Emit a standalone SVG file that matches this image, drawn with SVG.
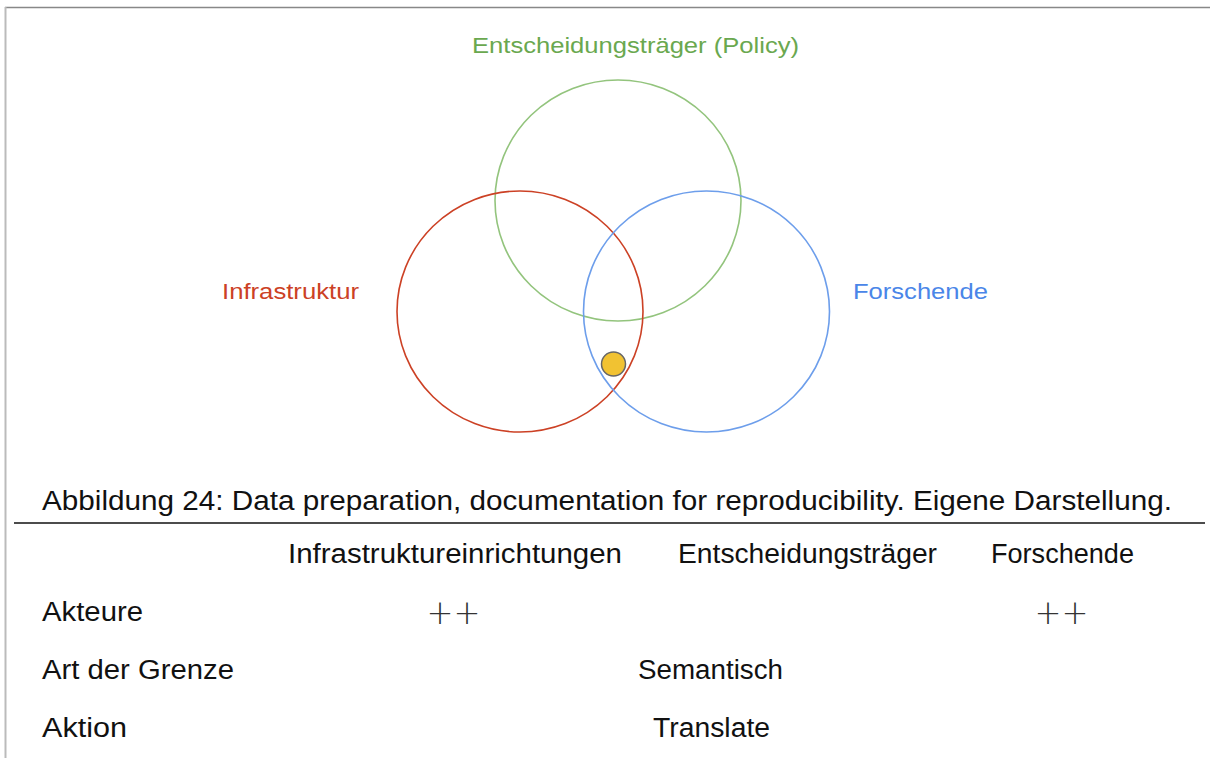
<svg xmlns="http://www.w3.org/2000/svg" width="1210" height="758" viewBox="0 0 1210 758">
<style>
.lbl{font-family:"Liberation Sans",Arial,sans-serif;font-size:22px}
.tx{font-family:"Liberation Sans",Arial,sans-serif;font-size:27px;fill:#111}
.pp{font-family:"DejaVu Sans",sans-serif;font-weight:200;font-size:33px;fill:#333}
.ring{fill:none;stroke-width:1.6}
</style>
<rect width="1210" height="758" fill="#fff"/>
<line x1="5" y1="7.5" x2="1210" y2="7.5" stroke="#888" stroke-width="1.5"/>
<line x1="5.5" y1="7" x2="5.5" y2="758" stroke="#bbb" stroke-width="2"/>
<g id="venn">
<g id="policy"><ellipse class="ring" cx="618" cy="200.5" rx="123" ry="120.5" stroke="#93c47d"/>
<text class="lbl" x="635.5" y="53" text-anchor="middle" fill="#6aa84f" textLength="327" lengthAdjust="spacingAndGlyphs">Entscheidungsträger (Policy)</text></g>
<g id="infra"><ellipse class="ring" cx="520" cy="311.5" rx="123" ry="120.5" stroke="#cc4125"/>
<text class="lbl" x="222" y="299" fill="#cc4125" textLength="137" lengthAdjust="spacingAndGlyphs">Infrastruktur</text></g>
<g id="forsch"><ellipse class="ring" cx="706.5" cy="311.5" rx="123" ry="120.5" stroke="#6d9eeb"/>
<text class="lbl" x="853" y="299" fill="#4a86e8" textLength="135" lengthAdjust="spacingAndGlyphs">Forschende</text></g>
<g id="dot"><circle cx="613.5" cy="364" r="12" fill="#f1c232" stroke="#666" stroke-width="1.5"/></g>
</g>
<g id="caption">
<text class="tx" x="42" y="510" textLength="1130" lengthAdjust="spacingAndGlyphs">Abbildung 24: Data preparation, documentation for reproducibility. Eigene Darstellung.</text>
<line x1="14" y1="523" x2="1205" y2="523" stroke="#111" stroke-width="1.5"/>
</g>
<g id="table">
<text class="tx" x="288" y="563" textLength="334" lengthAdjust="spacingAndGlyphs">Infrastruktureinrichtungen</text>
<text class="tx" x="678" y="563" textLength="259" lengthAdjust="spacingAndGlyphs">Entscheidungsträger</text>
<text class="tx" x="991" y="563" textLength="143" lengthAdjust="spacingAndGlyphs">Forschende</text>
<text class="tx" x="42" y="621" textLength="101" lengthAdjust="spacingAndGlyphs">Akteure</text>
<text class="pp" x="426.5" y="624" textLength="54" lengthAdjust="spacingAndGlyphs">++</text>
<text class="pp" x="1034.5" y="624" textLength="54" lengthAdjust="spacingAndGlyphs">++</text>
<text class="tx" x="42" y="679" textLength="192" lengthAdjust="spacingAndGlyphs">Art der Grenze</text>
<text class="tx" x="638" y="679" textLength="145" lengthAdjust="spacingAndGlyphs">Semantisch</text>
<text class="tx" x="42" y="737" textLength="85" lengthAdjust="spacingAndGlyphs">Aktion</text>
<text class="tx" x="653" y="737" textLength="117" lengthAdjust="spacingAndGlyphs">Translate</text>
</g>
</svg>
